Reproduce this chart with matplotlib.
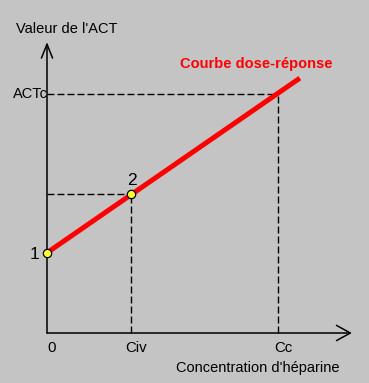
import matplotlib
matplotlib.use("Agg")
import matplotlib.pyplot as plt

plt.rcParams['font.family'] = ['Liberation Sans', 'DejaVu Sans']

# Data (arbitrary units)
conc_ticks = [0.0, 1.0, 2.75]
conc_labels = ['0', 'Civ', 'Cc']
point_x = [0.0, 1.0]
point_y = [1.36, 2.36]
point_labels = ['1', '2']
curve_x = [0.0, 3.01]
curve_y = [1.36, 4.32]
act_c = 4.05
cc = 2.75
x_end, y_end = 3.63, 4.93

BG = '#c4c4c4'
fig = plt.figure(figsize=(3.69, 3.83), dpi=100, facecolor=BG)
ax = fig.add_axes([0, 0, 1, 1])
ax.set_facecolor(BG)
ax.set_xlim(-47 / 84, (369 - 47) / 84)
ax.set_ylim(-(383 - 333) / 59, 333 / 59)
ax.axis('off')

# Axes with open arrows
ax.annotate('', xy=(x_end, 0), xytext=(0, 0),
            arrowprops=dict(arrowstyle='->,head_length=1.0,head_width=0.55',
                            lw=1.1, color='black', shrinkA=0, shrinkB=0))
ax.annotate('', xy=(0, y_end), xytext=(0, 0),
            arrowprops=dict(arrowstyle='->,head_length=1.0,head_width=0.4',
                            lw=1.1, color='black', shrinkA=0, shrinkB=0))

# Dashed guide lines
dash = dict(color='black', lw=1.0, dashes=(5, 2.2))
ax.plot([0, point_x[1]], [point_y[1], point_y[1]], **dash)
ax.plot([point_x[1], point_x[1]], [0, point_y[1]], **dash)
ax.plot([0, cc], [act_c, act_c], **dash)
ax.plot([cc, cc], [0, act_c], **dash)

# Dose-response line
ax.plot(curve_x, curve_y, color='#ff0000', lw=3.6, solid_capstyle='butt', zorder=3)
ax.plot(point_x, point_y, 'o', ms=6, mfc='#ffff33', mec='black', mew=0.9, zorder=4)

# Point labels
ax.text(point_x[0] - 0.09, point_y[0] - 0.03, point_labels[0], fontsize=12.5,
        ha='right', va='center')
ax.text(point_x[1] + 0.01, point_y[1] + 0.22, point_labels[1], fontsize=12.5,
        ha='center', va='center')

# Tick labels
for x, lab in zip(conc_ticks, conc_labels):
    ax.text(x + 0.06, -0.26, lab, fontsize=10.8, ha='center', va='center')

ax.text(0.01, act_c, 'ACTc', fontsize=10.5, ha='right', va='center')
ax.text(2.51, -0.6, "Concentration d'héparine", fontsize=10.5, ha='center', va='center')
ax.text(0.24, 5.16, "Valeur de l'ACT", fontsize=10.5, ha='center', va='center')
ax.text(2.49, 4.56, 'Courbe dose-réponse', fontsize=10.5, fontweight='bold',
        color='#ff0000', ha='center', va='center')

fig.savefig('out.png', dpi=100, facecolor=BG)
